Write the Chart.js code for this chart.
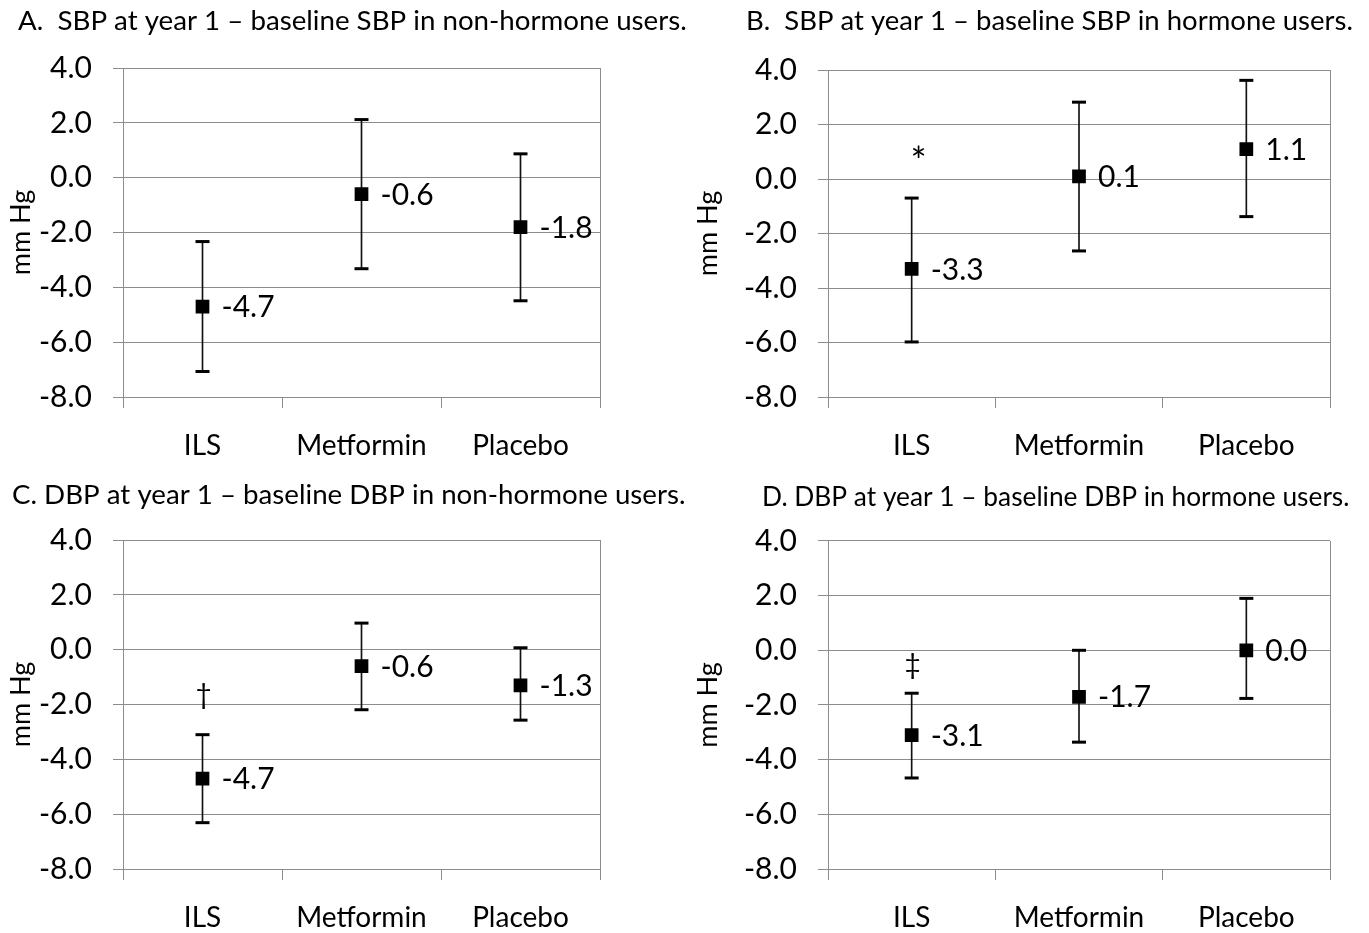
<!DOCTYPE html>
<html><head><meta charset="utf-8">
<script src="https://cdn.jsdelivr.net/npm/chart.js@4.4.0/dist/chart.umd.min.js"></script>
<style>
html,body{margin:0;padding:0;background:#fff;width:1369px;height:933px;overflow:hidden}
.p{position:absolute}
</style></head><body>
<div class="p" style="left:0px;top:0px"><canvas id="cA" width="690" height="466"></canvas></div>
<div class="p" style="left:690px;top:0px"><canvas id="cB" width="679" height="466"></canvas></div>
<div class="p" style="left:0px;top:472px"><canvas id="cC" width="690" height="461"></canvas></div>
<div class="p" style="left:690px;top:472px"><canvas id="cD" width="679" height="461"></canvas></div>
<script>
// ---- data ----
const categories = ['ILS', 'Metformin', 'Placebo'];
const yTickValues = [-8, -6, -4, -2, 0, 2, 4];
const yAxisLabel = 'mm Hg';

const titleA = 'A.  SBP at year 1 \u2013 baseline SBP in non-hormone users.';
const meanA = [-4.7, -0.6, -1.8];
const lowA  = [-7.07, -3.32, -4.49];
const highA = [-2.33, 2.12, 0.87];
const symA  = ['', '', ''];
const symYA = [null, null, null];

const titleB = 'B.  SBP at year 1 \u2013 baseline SBP in hormone users.';
const meanB = [-3.3, 0.1, 1.1];
const lowB  = [-5.98, -2.64, -1.38];
const highB = [-0.70, 2.82, 3.62];
const symB  = ['*', '', ''];
const symYB = [0.94, null, null];

const titleC = 'C. DBP at year 1 \u2013 baseline DBP in non-hormone users.';
const meanC = [-4.7, -0.6, -1.3];
const lowC  = [-6.31, -2.19, -2.57];
const highC = [-3.10, 0.97, 0.07];
const symC  = ['\u2020', '', ''];
const symYC = [-1.65, null, null];

const titleD = 'D. DBP at year 1 \u2013 baseline DBP in hormone users.';
const meanD = [-3.1, -1.7, 0.0];
const lowD  = [-4.67, -3.36, -1.76];
const highD = [-1.57, 0.0, 1.90];
const symD  = ['\u2021', '', ''];
const symYD = [-0.53, null, null];

// ---- styling ----
const FONT = 'Lato, "Open Sans", sans-serif';
const GRID = '#8c8c8c';
const SYM_STYLE = { '*': { size: 38, dx: 7, dy: 9.5 }, '\u2020': { size: 28, dx: 1, dy: 0 }, '\u2021': { size: 28, dx: 1, dy: 0 } };

const labelPlugin = {
  id: 'pointLabels',
  afterLayout(chart) {
    // let the y tick labels and axis title use the full left margin
    chart.scales.y.left = 0;
  },
  afterDatasetsDraw(chart) {
    const ctx = chart.ctx;
    const meta = chart.getDatasetMeta(3);
    const ds = chart.data.datasets[3];
    ctx.save();
    ctx.fillStyle = '#000';
    ctx.font = '30px ' + FONT;
    ctx.textAlign = 'left';
    ctx.textBaseline = 'middle';
    meta.data.forEach((el, i) => {
      ctx.fillText(ds.data[i].toFixed(1), el.x + 19, el.y + 1);
    });
    const sym = chart.options.plugins.pointLabels.symbols;
    const symY = chart.options.plugins.pointLabels.symbolY;
    ctx.textAlign = 'center';
    sym.forEach((s, i) => {
      if (!s) return;
      const st = SYM_STYLE[s];
      ctx.font = st.size + 'px ' + FONT;
      const x = chart.scales.x.getPixelForValue(i);
      const y = chart.scales.y.getPixelForValue(symY[i]);
      ctx.fillText(s, x + st.dx, y + st.dy);
    });
    ctx.restore();
  }
};

function makePanel(id, title, mean, low, high, sym, symY, L) {
  const ranges = low.map((v, i) => [v, high[i]]);
  new Chart(document.getElementById(id), {
    type: 'bar',
    data: {
      labels: categories,
      datasets: [
        { type: 'bar', data: ranges, backgroundColor: '#111', borderWidth: 0, barThickness: 1, order: 3 },
        { type: 'line', data: low, showLine: false, pointStyle: 'line', pointRadius: 7, pointBorderWidth: 3, pointBorderColor: '#000', order: 2 },
        { type: 'line', data: high, showLine: false, pointStyle: 'line', pointRadius: 7, pointBorderWidth: 3, pointBorderColor: '#000', order: 1 },
        { type: 'line', data: mean, showLine: false, pointStyle: 'rect', pointRadius: 9.7, pointBackgroundColor: '#000', pointBorderWidth: 0, order: 0 }
      ]
    },
    options: {
      responsive: false,
      animation: false,
      devicePixelRatio: 1,
      events: [],
      layout: { padding: { left: L.padLeft, right: 0, top: 0, bottom: 0 } },
      plugins: {
        legend: { display: false },
        tooltip: { enabled: false },
        title: {
          display: true, text: title, align: 'start', color: '#000',
          font: { family: FONT, size: L.titleSize, weight: 'normal', lineHeight: 1.2 },
          padding: { top: L.titleTop, bottom: L.titleBottom }
        },
        pointLabels: { symbols: sym, symbolY: symY }
      },
      scales: {
        x: {
          type: 'category', offset: true,
          grid: {
            offset: true, drawOnChartArea: true, drawTicks: true, tickLength: 11,
            color: c => (c.index === undefined || c.index === 0) ? GRID : 'rgba(0,0,0,0)',
            tickColor: GRID, lineWidth: 1
          },
          border: { display: true, color: GRID },
          ticks: { color: '#000', font: { family: FONT, size: 28 }, padding: 21, maxRotation: 0 },
          afterFit: s => { s.height = L.xHeight; }
        },
        y: {
          min: -8, max: 4,
          afterBuildTicks: s => { s.ticks = yTickValues.map(v => ({ value: v })); },
          grid: { color: GRID, tickColor: GRID, tickLength: 10, drawTicks: true, lineWidth: 1 },
          border: { display: true, color: GRID },
          ticks: { color: '#000', font: { family: FONT, size: 30 }, padding: 21, callback: v => Number(v).toFixed(1) },
          title: { display: true, text: yAxisLabel, color: '#000', font: { family: FONT, size: 27, lineHeight: 1.2 }, padding: { top: L.mmPad, bottom: 0 } },
          afterFit: s => { s.width = L.yWidth; }
        },
        gap: {
          position: 'right', display: true,
          grid: { display: false }, border: { display: false }, ticks: { display: false },
          afterFit: s => { s.width = L.rightGap; }
        }
      }
    },
    plugins: [labelPlugin]
  });
}

makePanel('cA', titleA, meanA, lowA, highA, symA, symYA, { padLeft: 18, rightGap: 90, titleSize: 27.7, titleTop: 4.4, titleBottom: 30.4, yWidth: 105, mmPad: 5, xHeight: 69 });
makePanel('cB', titleB, meanB, lowB, highB, symB, symYB, { padLeft: 56, rightGap: 39, titleSize: 27.5, titleTop: 4.5, titleBottom: 32.5, yWidth: 82, mmPad: 2, xHeight: 69 });
makePanel('cC', titleC, meanC, lowC, highC, symC, symYC, { padLeft: 12, rightGap: 90, titleSize: 27.7, titleTop: 6.4, titleBottom: 28.4, yWidth: 111, mmPad: 5, xHeight: 64 });
makePanel('cD', titleD, meanD, lowD, highD, symD, symYD, { padLeft: 72, rightGap: 39, titleSize: 26.3, titleTop: 10.2, titleBottom: 27.2, yWidth: 66, mmPad: 2, xHeight: 64 });
</script>
</body></html>
